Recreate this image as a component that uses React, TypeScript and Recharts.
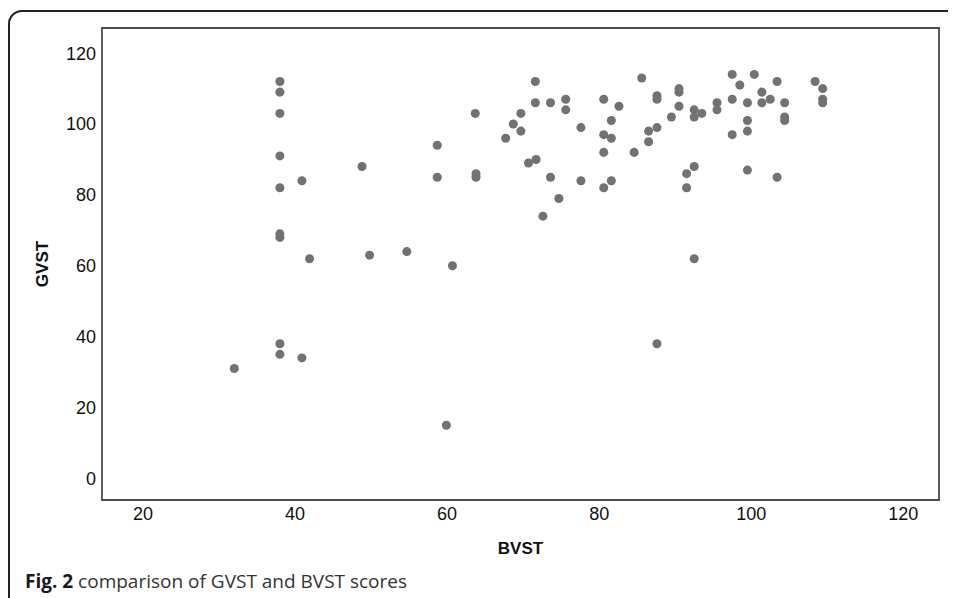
import React from "react";
import {
    ScatterChart,
    Scatter,
    XAxis,
    YAxis,
    ZAxis,
    ReferenceArea,
    Label,
} from "recharts";

// BVST (x) and GVST (y) scores, one entry per participant
const bvst = [
    38, 38, 38, 38, 38, 38, 38, 38, 38,
    40.9, 41.9, 32, 40.9,
    48.8, 49.8, 54.7, 58.7, 58.7, 59.9, 60.7,
    63.7, 63.8, 63.8,
    67.7, 68.7, 69.7, 69.7, 70.7, 71.7,
    71.6, 71.6, 73.6, 75.6, 75.6,
    72.6, 73.6, 74.7, 77.6, 77.6,
    80.6, 82.6, 81.6, 80.6, 81.6, 80.6, 81.6, 80.6,
    84.6, 85.6,
    87.6, 87.6, 87.6, 86.5, 86.5, 87.6,
    90.5, 90.5, 90.5, 89.5,
    92.5, 92.5, 93.5, 92.5, 91.5, 91.5, 92.5,
    95.5, 95.5,
    97.5, 98.5, 97.5, 99.5, 99.5, 99.5, 97.5, 99.5,
    100.4, 101.4, 101.4, 102.5, 103.4, 104.4, 104.4, 104.4, 103.4,
    108.4, 109.4, 109.4, 109.4,
];

const gvst = [
    112, 109, 103, 91, 82, 69, 68, 38, 35,
    84, 62, 31, 34,
    88, 63, 64, 94, 85, 15, 60,
    103, 86, 85,
    96, 100, 103, 98, 89, 90,
    112, 106, 106, 107, 104,
    74, 85, 79, 99, 84,
    107, 105, 101, 97, 96, 92, 84, 82,
    92, 113,
    108, 107, 99, 98, 95, 38,
    110, 109, 105, 102,
    104, 102, 103, 88, 86, 82, 62,
    106, 104,
    114, 111, 107, 106, 101, 98, 97, 87,
    114, 109, 106, 107, 112, 106, 102, 101, 85,
    112, 110, 107, 106,
];

const xTicks = [20, 40, 60, 80, 100, 120];
const yTicks = [0, 20, 40, 60, 80, 100, 120];
const xDomain = [14.6, 124.7];
const yDomain = [-6.1, 127.1];

const points = bvst.map((b, i) => ({ bvst: b, gvst: gvst[i] }));

const font = "'Liberation Sans', Arial, sans-serif";
const tickStyle = { fontFamily: font, fontSize: 18, fill: "#111" };
const titleStyle = { fontFamily: font, fontSize: 17, fontWeight: 700, fill: "#111" };

const App = () => {
    return (
        <div style={{ position: "relative", width: 948, height: 590, overflow: "hidden", background: "#fff" }}>
            <div
                style={{
                    position: "absolute",
                    left: 0,
                    top: 2,
                    width: 980,
                    height: 620,
                    border: "2px solid #222",
                    borderTopLeftRadius: 14,
                    boxSizing: "border-box",
                }}
            />
            <div style={{ position: "absolute", left: 0, top: 0 }}>
                <ScatterChart width={948} height={560} margin={{ top: 20, right: 17, bottom: 38, left: 34 }}>
                    <XAxis
                        type="number"
                        dataKey="bvst"
                        domain={xDomain}
                        ticks={xTicks}
                        allowDataOverflow
                        axisLine={false}
                        tickLine={false}
                        tick={tickStyle}
                        style={tickStyle}
                        tickMargin={1}
                        height={30}
                    >
                        <Label value="BVST" position="bottom" offset={12} style={titleStyle} />
                    </XAxis>
                    <YAxis
                        type="number"
                        dataKey="gvst"
                        domain={yDomain}
                        ticks={yTicks}
                        allowDataOverflow
                        axisLine={false}
                        tickLine={false}
                        tick={tickStyle}
                        style={tickStyle}
                        tickMargin={0}
                        width={60}
                    >
                        <Label value="GVST" angle={-90} position="insideLeft" offset={0} style={{ ...titleStyle, textAnchor: "middle" }} />
                    </YAxis>
                    <ZAxis range={[66, 66]} />
                    <ReferenceArea
                        x1={xDomain[0]}
                        x2={xDomain[1]}
                        y1={yDomain[0]}
                        y2={yDomain[1]}
                        fill="none"
                        stroke="#4a4a4a"
                        strokeWidth={1.8}
                        ifOverflow="visible"
                    />
                    <Scatter data={points} fill="#727272" isAnimationActive={false} />
                </ScatterChart>
            </div>
            <div
                style={{
                    position: "absolute",
                    left: 17,
                    top: 560,
                    fontFamily: "'Open Sans', 'Noto Sans', sans-serif",
                    fontSize: 19,
                    color: "#333",
                    whiteSpace: "nowrap",
                }}
            >
                <b style={{ color: "#1a1a1a" }}>Fig. 2</b> comparison of GVST and BVST scores
            </div>
        </div>
    );
};

export default App;
